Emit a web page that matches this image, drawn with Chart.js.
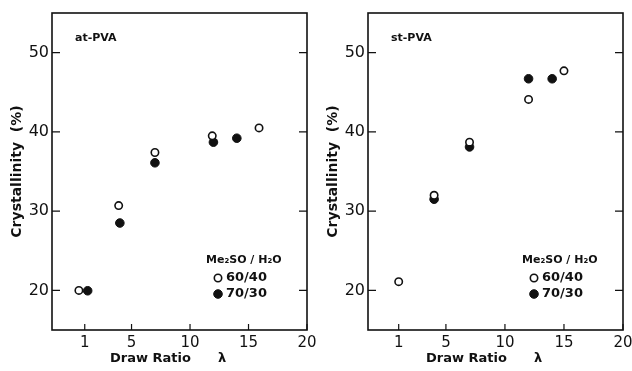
<!DOCTYPE html>
<html>
<head>
<meta charset="utf-8">
<script src="https://cdn.jsdelivr.net/npm/chart.js@4"></script>
<style>
  html, body { margin: 0; padding: 0; background: #fff; }
  .wrap { position: relative; width: 632px; height: 371px; }
  .panel { position: absolute; top: 0; width: 316px; height: 371px; }
</style>
</head>
<body>
<div class="wrap">
  <div class="panel" style="left:0"><canvas id="atChart" width="316" height="371"></canvas></div>
  <div class="panel" style="left:316px"><canvas id="stChart" width="316" height="371"></canvas></div>
</div>
<script>
// at-PVA (left panel)
const atOpenX = [0.5, 3.9, 7, 11.9, 15.9];
const atOpenY = [20.0, 30.7, 37.4, 39.5, 40.5];
const atFilledX = [1.25, 4, 7, 12, 14];
const atFilledY = [19.95, 28.5, 36.1, 38.7, 39.2];

// st-PVA (right panel)
const stOpenX = [1, 4, 7, 12, 15];
const stOpenY = [21.1, 32.0, 38.7, 44.1, 47.7];
const stFilledX = [4, 7, 12, 14];
const stFilledY = [31.5, 38.1, 46.7, 46.7];

const xTickValues = [1, 5, 10, 15, 20];
const yTickValues = [20, 30, 40, 50];
const seriesLabels = ['60/40', '70/30'];
const legendTitle = 'Me\u2082SO / H\u2082O';

const FONT = "'DejaVu Sans', sans-serif";

function toPoints(xs, ys) {
  return xs.map((x, i) => ({ x: x, y: ys[i] }));
}

// frame, inward tick marks, panel tag and legend
const framePlugin = {
  id: 'frame',
  afterDraw(chart) {
    const ctx = chart.ctx;
    const a = chart.chartArea;
    const xs = chart.scales.x;
    const ys = chart.scales.y;
    ctx.save();
    ctx.strokeStyle = '#111';
    ctx.lineWidth = 1.6;
    ctx.strokeRect(a.left, a.top, a.right - a.left, a.bottom - a.top);
    ctx.lineWidth = 1.2;
    ctx.beginPath();
    ys.ticks.forEach((t) => {
      const py = ys.getPixelForValue(t.value);
      ctx.moveTo(a.left, py);
      ctx.lineTo(a.left + 8, py);
      ctx.moveTo(a.right, py);
      ctx.lineTo(a.right - 8, py);
    });
    xs.ticks.forEach((t) => {
      const px = xs.getPixelForValue(t.value);
      ctx.moveTo(px, a.bottom);
      ctx.lineTo(px, a.bottom - 6);
    });
    ctx.stroke();

    const opts = chart.options.plugins.frame;
    ctx.fillStyle = '#111';
    ctx.font = 'bold 11px ' + FONT;
    ctx.textBaseline = 'middle';
    ctx.textAlign = 'left';
    ctx.fillText(opts.tag, a.left + 23, a.top + 25);

    // legend
    const lx = a.left + 154;
    ctx.fillText(legendTitle, lx, a.top + 247);
    ctx.font = 'bold 13px ' + FONT;
    chart.data.datasets.forEach((ds, i) => {
      const cy = a.top + 265 + i * 16;
      ctx.beginPath();
      ctx.arc(lx + 12, cy, ds.pointRadius, 0, Math.PI * 2);
      ctx.fillStyle = ds.pointBackgroundColor;
      ctx.fill();
      ctx.lineWidth = ds.pointBorderWidth;
      ctx.strokeStyle = '#111';
      ctx.stroke();
      ctx.fillStyle = '#111';
      ctx.fillText(ds.label, lx + 20, cy);
    });
    ctx.restore();
  },
};

function makePanel(id, tag, openX, openY, filledX, filledY, xMin) {
  const ctx = document.getElementById(id).getContext('2d');
  return new Chart(ctx, {
    type: 'scatter',
    data: {
      datasets: [
        {
          label: seriesLabels[0],
          data: toPoints(openX, openY),
          pointRadius: 3.7,
          pointBackgroundColor: '#fff',
          pointBorderColor: '#111',
          pointBorderWidth: 1.6,
        },
        {
          label: seriesLabels[1],
          data: toPoints(filledX, filledY),
          pointRadius: 4.3,
          pointBackgroundColor: '#111',
          pointBorderColor: '#111',
          pointBorderWidth: 1,
        },
      ],
    },
    options: {
      responsive: false,
      animation: false,
      layout: { padding: { top: 13, right: 9, left: 0, bottom: 0 } },
      scales: {
        x: {
          type: 'linear',
          min: xMin,
          max: 20,
          afterBuildTicks: (scale) => {
            scale.ticks = xTickValues.map((v) => ({ value: v }));
          },
          afterFit: (scale) => {
            scale.height = 41;
            scale.paddingLeft = 0;
            scale.paddingRight = 0;
          },
          grid: { display: false, drawTicks: false },
          border: { display: false },
          ticks: {
            color: '#111',
            padding: 4,
            maxRotation: 0,
            autoSkip: false,
            font: { family: FONT, size: 15 },
          },
          title: {
            display: true,
            text: 'Draw Ratio      \u03bb\u00a0\u00a0\u00a0\u00a0\u00a0',
            color: '#111',
            padding: { top: 0, bottom: 5 },
            font: { family: FONT, size: 13, weight: 'bold' },
          },
        },
        y: {
          min: 15,
          max: 55,
          afterBuildTicks: (scale) => {
            scale.ticks = yTickValues.map((v) => ({ value: v }));
          },
          afterFit: (scale) => {
            scale.width = 52;
          },
          grid: { display: false, drawTicks: false },
          border: { display: false },
          ticks: {
            color: '#111',
            padding: 3,
            font: { family: FONT, size: 16 },
          },
          title: {
            display: true,
            text: 'Crystallinity  (%)',
            color: '#111',
            padding: { top: 9, bottom: 0 },
            font: { family: FONT, size: 14, weight: 'bold' },
          },
        },
      },
      plugins: {
        legend: { display: false },
        tooltip: { enabled: false },
        frame: { tag: tag },
      },
    },
    plugins: [framePlugin],
  });
}

makePanel('atChart', 'at-PVA', atOpenX, atOpenY, atFilledX, atFilledY, -1.8);
makePanel('stChart', 'st-PVA', stOpenX, stOpenY, stFilledX, stFilledY, -1.6);
</script>
</body>
</html>
